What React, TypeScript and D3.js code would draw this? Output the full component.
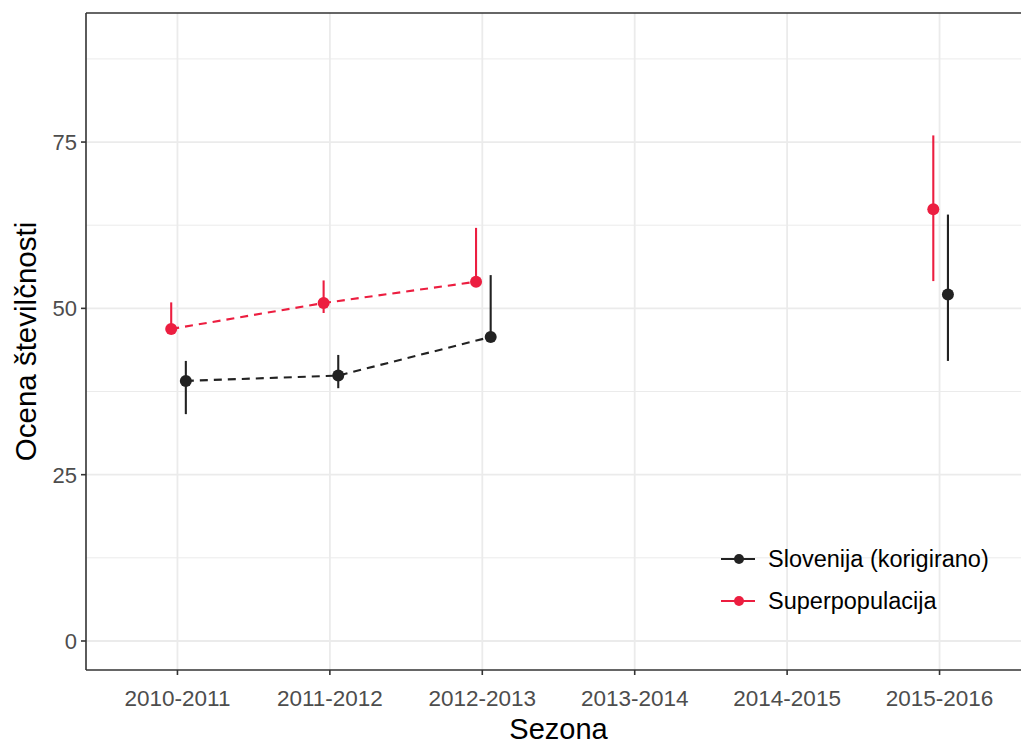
import * as d3 from 'd3';

const seasons = ['2010-2011', '2011-2012', '2012-2013', '2013-2014', '2014-2015', '2015-2016'];

// Slovenija (korigirano)
const sloEst = [39.1, 39.9, 45.7, null, null, 52.1];
const sloLo = [34.1, 38.0, 45.5, null, null, 42.1];
const sloHi = [42.1, 43.0, 55.0, null, null, 64.1];

// Superpopulacija
const supEst = [46.9, 50.8, 54.0, null, null, 64.9];
const supLo = [46.3, 49.3, 53.8, null, null, 54.1];
const supHi = [50.9, 54.2, 62.1, null, null, 76.0];

const yTicks = [0, 25, 50, 75];
const yMinor = [12.5, 37.5, 62.5, 87.5];

const W = 1021;
const H = 745;
const FONT = '"Liberation Sans", Arial, sans-serif';

const series = [
  { name: 'Slovenija (korigirano)', color: '#222222', est: sloEst, lo: sloLo, hi: sloHi, dodge: 0.055 },
  { name: 'Superpopulacija', color: '#EC1E40', est: supEst, lo: supLo, hi: supHi, dodge: -0.041 },
];

export default function App() {
  const left = 86;
  const right = 1031;
  const top = 13;
  const bottom = 670;

  const x = d3.scaleLinear().domain([0.4, seasons.length + 0.6]).range([left, right]);
  const y = d3.scaleLinear().domain([-4.36, 94.4]).range([bottom, top]);

  const line = d3
    .line<number | null>()
    .defined((d) => d != null)
    .y((d) => y(d as number));

  return (
    <svg width={W} height={H} style={{ position: 'absolute', left: 0, top: 0, background: '#fff' }}>
      <defs>
        <clipPath id="panel">
          <rect x={left} y={top} width={right - left} height={bottom - top} />
        </clipPath>
      </defs>
      <rect x={0} y={0} width={W} height={H} fill="#fff" />

      <g clipPath="url(#panel)">
        {yMinor.map((v) => (
          <line key={'m' + v} x1={left} x2={right} y1={y(v)} y2={y(v)} stroke="#EBEBEB" strokeWidth={1} />
        ))}
        {yTicks.map((v) => (
          <line key={'M' + v} x1={left} x2={right} y1={y(v)} y2={y(v)} stroke="#EBEBEB" strokeWidth={1.8} />
        ))}
        {seasons.map((s, i) => (
          <line key={s} x1={x(i + 1)} x2={x(i + 1)} y1={top} y2={bottom} stroke="#EBEBEB" strokeWidth={1.8} />
        ))}

        {series.map((s) => (
          <g key={s.name}>
            <path
              d={line.x((_, i) => x(i + 1 + s.dodge))(s.est) || ''}
              fill="none"
              stroke={s.color}
              strokeWidth={2.1}
              strokeDasharray="8,6"
            />
            {s.est.map((v, i) =>
              v == null ? null : (
                <g key={i}>
                  <line
                    x1={x(i + 1 + s.dodge)}
                    x2={x(i + 1 + s.dodge)}
                    y1={y(s.lo[i] as number)}
                    y2={y(s.hi[i] as number)}
                    stroke={s.color}
                    strokeWidth={2.1}
                  />
                  <circle cx={x(i + 1 + s.dodge)} cy={y(v)} r={6} fill={s.color} />
                </g>
              )
            )}
          </g>
        ))}
      </g>

      {/* panel border */}
      <line x1={left} x2={left} y1={top} y2={bottom} stroke="#333" strokeWidth={1.6} />
      <line x1={left} x2={W} y1={bottom} y2={bottom} stroke="#333" strokeWidth={1.6} />
      <line x1={left} x2={W} y1={top} y2={top} stroke="#333" strokeWidth={1.6} />

      {/* y axis */}
      {yTicks.map((v) => (
        <g key={v}>
          <line x1={left - 5} x2={left} y1={y(v)} y2={y(v)} stroke="#333" strokeWidth={1.6} />
          <text x={left - 9} y={y(v)} dy="0.36em" textAnchor="end" fontFamily={FONT} fontSize={22} fill="#4D4D4D">
            {v}
          </text>
        </g>
      ))}

      {/* x axis */}
      {seasons.map((s, i) => (
        <g key={s}>
          <line x1={x(i + 1)} x2={x(i + 1)} y1={bottom} y2={bottom + 5} stroke="#333" strokeWidth={1.6} />
          <text x={x(i + 1)} y={706} textAnchor="middle" fontFamily={FONT} fontSize={22.5} fill="#4D4D4D">
            {s}
          </text>
        </g>
      ))}

      <text x={(left + right) / 2} y={739} textAnchor="middle" fontFamily={FONT} fontSize={29} fill="#000">
        Sezona
      </text>
      <text
        transform={`translate(36,${(top + bottom) / 2}) rotate(-90)`}
        textAnchor="middle"
        fontFamily={FONT}
        fontSize={29.5}
        fill="#000"
      >
        Ocena številčnosti
      </text>

      {/* legend */}
      {series.map((s, i) => {
        const ly = 559 + i * 42;
        return (
          <g key={s.name}>
            <line x1={721} x2={755} y1={ly} y2={ly} stroke={s.color} strokeWidth={2} />
            <circle cx={739} cy={ly} r={5} fill={s.color} />
            <text x={768} y={ly} dy="0.36em" fontFamily={FONT} fontSize={23.5} fill="#000">
              {s.name}
            </text>
          </g>
        );
      })}
    </svg>
  );
}
